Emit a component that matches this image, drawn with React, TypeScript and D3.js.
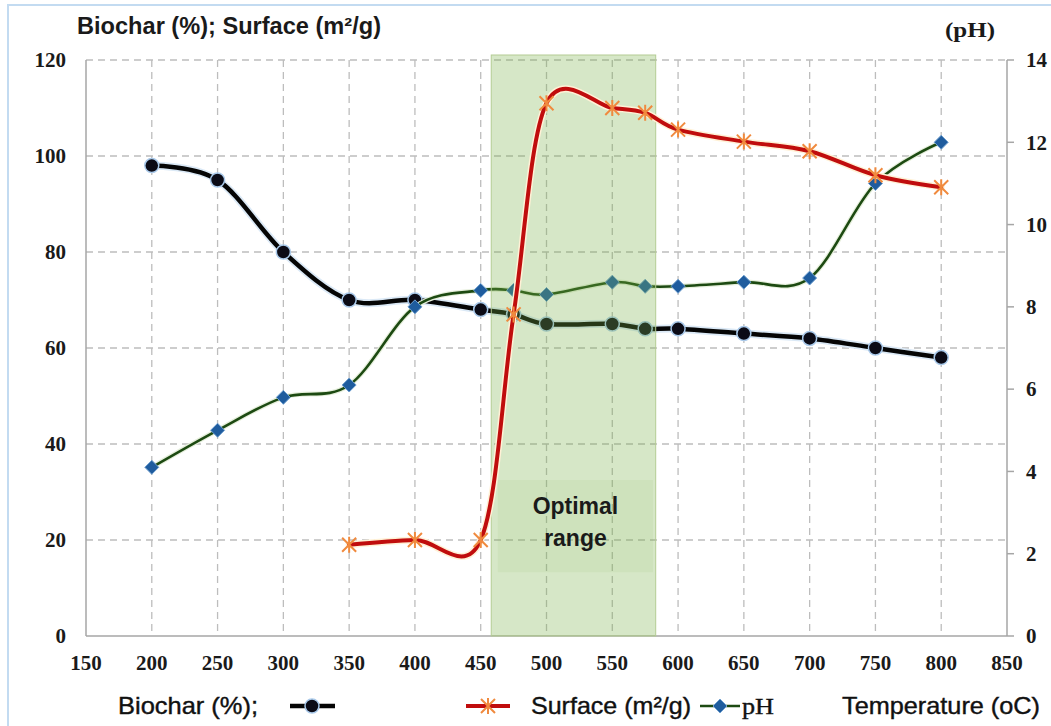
import React, { useEffect, useRef } from 'react';
import * as d3 from 'd3';

// Temperatures (oC) where each series was measured
const bioTemps = [200, 250, 300, 350, 400, 450, 475, 500, 550, 575, 600, 650, 700, 750, 800];
const bioValues = [98, 95, 80, 70, 70, 68, 67, 65, 65, 64, 64, 63, 62, 60, 58];

const surfTemps = [350, 400, 450, 475, 500, 550, 575, 600, 650, 700, 750, 800];
const surfValues = [19, 20, 20, 67, 111, 110, 109, 105.5, 103, 101, 96, 93.5];

const phTemps = [200, 250, 300, 350, 400, 450, 475, 500, 550, 575, 600, 650, 700, 750, 800];
const phValues = [4.1, 5.0, 5.8, 6.1, 8.0, 8.4, 8.4, 8.3, 8.6, 8.5, 8.5, 8.6, 8.7, 11.0, 12.0];

const xTicks = [150, 200, 250, 300, 350, 400, 450, 500, 550, 600, 650, 700, 750, 800, 850];
const leftTicks = [0, 20, 40, 60, 80, 100, 120];
const rightTicks = [0, 2, 4, 6, 8, 10, 12, 14];

// Optimal range annotation (temperature / left-axis units)
const optimalBand = [458, 583];
const optimalLabelBox = { x0: 463, x1: 581, y0: 13.3, y1: 32.5 };

const W = 1051;
const H = 726;

const App = () => {
  const svgRef = useRef<SVGSVGElement | null>(null);

  useEffect(() => {
    if (!svgRef.current) return;
    const svg = d3.select(svgRef.current);
    svg.selectAll('*').remove();

    const left = 86, right = 1007, top = 60, bottom = 636;

    const x = d3.scaleLinear().domain([150, 850]).range([left, right]);
    const yL = d3.scaleLinear().domain([0, 120]).range([bottom, top]);
    const yR = d3.scaleLinear().domain([0, 14]).range([bottom, top]);

    const curve = d3.curveCardinal.tension(0);

    // Frame
    svg.append('rect')
      .attr('x', 0).attr('y', 0).attr('width', W).attr('height', H)
      .attr('fill', '#ffffff');
    svg.append('path')
      .attr('d', `M8,${H} L8,5 L${W},5`)
      .attr('fill', 'none')
      .attr('stroke', '#c3dbf1')
      .attr('stroke-width', 2);

    // Grid
    svg.append('g').selectAll('line')
      .data(leftTicks.filter(d => d > 0))
      .enter().append('line')
      .attr('x1', left).attr('x2', right)
      .attr('y1', d => yL(d)).attr('y2', d => yL(d))
      .attr('stroke', '#bdbdbd')
      .attr('stroke-width', 1.3)
      .attr('stroke-dasharray', '7,5');

    svg.append('g').selectAll('line')
      .data(xTicks.slice(1, -1))
      .enter().append('line')
      .attr('x1', d => x(d)).attr('x2', d => x(d))
      .attr('y1', top).attr('y2', bottom)
      .attr('stroke', '#bdbdbd')
      .attr('stroke-width', 1.3)
      .attr('stroke-dasharray', '7,5');

    // Axes lines
    const axisColor = '#a6a6a6';
    svg.append('line').attr('x1', left).attr('x2', left).attr('y1', top).attr('y2', bottom)
      .attr('stroke', axisColor).attr('stroke-width', 1.5);
    svg.append('line').attr('x1', right).attr('x2', right).attr('y1', top).attr('y2', bottom)
      .attr('stroke', axisColor).attr('stroke-width', 1.5);
    svg.append('line').attr('x1', left).attr('x2', right).attr('y1', bottom).attr('y2', bottom)
      .attr('stroke', axisColor).attr('stroke-width', 1.5);

    svg.append('g').selectAll('line')
      .data(rightTicks)
      .enter().append('line')
      .attr('x1', right).attr('x2', right + 7)
      .attr('y1', d => yR(d)).attr('y2', d => yR(d))
      .attr('stroke', axisColor).attr('stroke-width', 1.5);

    // Tick labels
    const serif = '"Liberation Serif", "Times New Roman", serif';
    const sans = '"Liberation Sans", Arial, sans-serif';

    svg.append('g').selectAll('text')
      .data(leftTicks)
      .enter().append('text')
      .attr('x', 66).attr('y', d => yL(d)).attr('dy', '0.35em')
      .attr('text-anchor', 'end')
      .style('font-family', serif).style('font-weight', 'bold').style('font-size', '21px')
      .style('fill', '#1a1a1a')
      .text(d => d);

    svg.append('g').selectAll('text')
      .data(rightTicks)
      .enter().append('text')
      .attr('x', 1026).attr('y', d => yR(d)).attr('dy', '0.35em')
      .attr('text-anchor', 'start')
      .style('font-family', serif).style('font-weight', 'bold').style('font-size', '21px')
      .style('fill', '#1a1a1a')
      .text(d => d);

    svg.append('g').selectAll('text')
      .data(xTicks)
      .enter().append('text')
      .attr('x', d => x(d)).attr('y', 670)
      .attr('text-anchor', 'middle')
      .style('font-family', serif).style('font-weight', 'bold').style('font-size', '21px')
      .style('fill', '#1a1a1a')
      .text(d => d);

    // Titles
    svg.append('text')
      .attr('x', 77).attr('y', 34)
      .attr('textLength', 304).attr('lengthAdjust', 'spacingAndGlyphs')
      .style('font-family', sans).style('font-weight', 'bold').style('font-size', '23px')
      .style('fill', '#1a1a1a')
      .text('Biochar (%); Surface (m²/g)');

    svg.append('text')
      .attr('x', 945).attr('y', 37)
      .attr('textLength', 50).attr('lengthAdjust', 'spacingAndGlyphs')
      .style('font-family', serif).style('font-weight', 'bold').style('font-size', '22px')
      .style('fill', '#1a1a1a')
      .text('(pH)');

    // Series helpers
    const drawLine = (temps: number[], vals: number[], y: any, color: string, width: number, glow: string, glowWidth: number) => {
      const pts = temps.map((t, i) => [x(t), y(vals[i])] as [number, number]);
      const line = d3.line().curve(curve);
      svg.append('path').attr('d', line(pts))
        .attr('fill', 'none').attr('stroke', glow).attr('stroke-width', glowWidth)
        .attr('stroke-linecap', 'round').attr('stroke-linejoin', 'round');
      svg.append('path').attr('d', line(pts))
        .attr('fill', 'none').attr('stroke', color).attr('stroke-width', width)
        .attr('stroke-linecap', 'round').attr('stroke-linejoin', 'round');
      return pts;
    };

    const circleMarker = (g: any, cx: number, cy: number) => {
      g.append('circle').attr('cx', cx).attr('cy', cy).attr('r', 7)
        .attr('fill', '#0b0b16').attr('stroke', '#a9c9ea').attr('stroke-width', 1.5);
    };
    const diamondMarker = (g: any, cx: number, cy: number) => {
      const s = 7;
      g.append('path')
        .attr('d', `M${cx},${cy - s}L${cx + s},${cy}L${cx},${cy + s}L${cx - s},${cy}Z`)
        .attr('fill', '#1f5c9e').attr('stroke', '#6f9fcf').attr('stroke-width', 1);
    };
    const starMarker = (g: any, cx: number, cy: number) => {
      const s = 7;
      g.append('path')
        .attr('d', `M${cx - s},${cy - s}L${cx + s},${cy + s}M${cx - s},${cy + s}L${cx + s},${cy - s}M${cx},${cy - s - 1}L${cx},${cy + s + 1}`)
        .attr('fill', 'none').attr('stroke', '#f08a3e').attr('stroke-width', 2);
    };

    // Biochar
    const bioPts = drawLine(bioTemps, bioValues, yL, '#050505', 4.5, '#dbe9f6', 8);
    const bioG = svg.append('g');
    bioPts.forEach(p => circleMarker(bioG, p[0], p[1]));

    // pH
    const phPts = drawLine(phTemps, phValues, yR, '#1d4a12', 2.6, '#e6efdc', 5);
    const phG = svg.append('g');
    phPts.forEach(p => diamondMarker(phG, p[0], p[1]));

    // Optimal range band
    svg.append('rect')
      .attr('x', x(optimalBand[0]))
      .attr('y', top - 5)
      .attr('width', x(optimalBand[1]) - x(optimalBand[0]))
      .attr('height', bottom - top + 5)
      .attr('fill', 'rgb(120,175,70)')
      .attr('fill-opacity', 0.3)
      .attr('stroke', '#b4cc93')
      .attr('stroke-width', 1);

    svg.append('rect')
      .attr('x', x(optimalLabelBox.x0))
      .attr('y', yL(optimalLabelBox.y1))
      .attr('width', x(optimalLabelBox.x1) - x(optimalLabelBox.x0))
      .attr('height', yL(optimalLabelBox.y0) - yL(optimalLabelBox.y1))
      .attr('fill', 'rgb(120,175,70)')
      .attr('fill-opacity', 0.08);

    const labelX = (x(optimalLabelBox.x0) + x(optimalLabelBox.x1)) / 2;
    svg.append('text')
      .attr('x', labelX).attr('y', 514)
      .attr('text-anchor', 'middle')
      .style('font-family', sans).style('font-weight', 'bold').style('font-size', '23px')
      .style('fill', '#1a1a1a')
      .text('Optimal');
    svg.append('text')
      .attr('x', labelX).attr('y', 546)
      .attr('text-anchor', 'middle')
      .style('font-family', sans).style('font-weight', 'bold').style('font-size', '23px')
      .style('fill', '#1a1a1a')
      .text('range');

    // Surface
    const surfPts = drawLine(surfTemps, surfValues, yL, '#c00d0d', 4, '#fff1d6', 7);
    const surfG = svg.append('g');
    surfPts.forEach(p => starMarker(surfG, p[0], p[1]));

    // Legend
    const legY = 706;
    const legText = (tx: number, label: string, font: string, size: number, len: number) =>
      svg.append('text')
        .attr('x', tx).attr('y', legY).attr('dy', '0.35em')
        .attr('textLength', len).attr('lengthAdjust', 'spacingAndGlyphs')
        .style('font-family', font).style('font-size', `${size}px`)
        .style('fill', '#111111')
        .style('stroke', '#111111').style('stroke-width', 0.4)
        .text(label);

    legText(118, 'Biochar (%);', sans, 24, 140);
    const lg = svg.append('g');
    lg.append('line').attr('x1', 290).attr('x2', 335).attr('y1', legY).attr('y2', legY)
      .attr('stroke', '#050505').attr('stroke-width', 4.5);
    circleMarker(lg, 312, legY);

    lg.append('line').attr('x1', 466).attr('x2', 510).attr('y1', legY).attr('y2', legY)
      .attr('stroke', '#c00d0d').attr('stroke-width', 4);
    starMarker(lg, 488, legY);
    legText(531, 'Surface (m²/g)', sans, 24, 160);

    lg.append('line').attr('x1', 700).attr('x2', 740).attr('y1', legY).attr('y2', legY)
      .attr('stroke', '#1d4a12').attr('stroke-width', 2.6);
    diamondMarker(lg, 720, legY);
    legText(742, 'pH', serif, 24, 32);

    legText(842, 'Temperature (oC)', sans, 24, 198);
  }, []);

  return (
    <svg
      ref={svgRef}
      width={W}
      height={H}
      style={{ position: 'absolute', left: 0, top: 0, display: 'block' }}
    />
  );
};

export default App;
